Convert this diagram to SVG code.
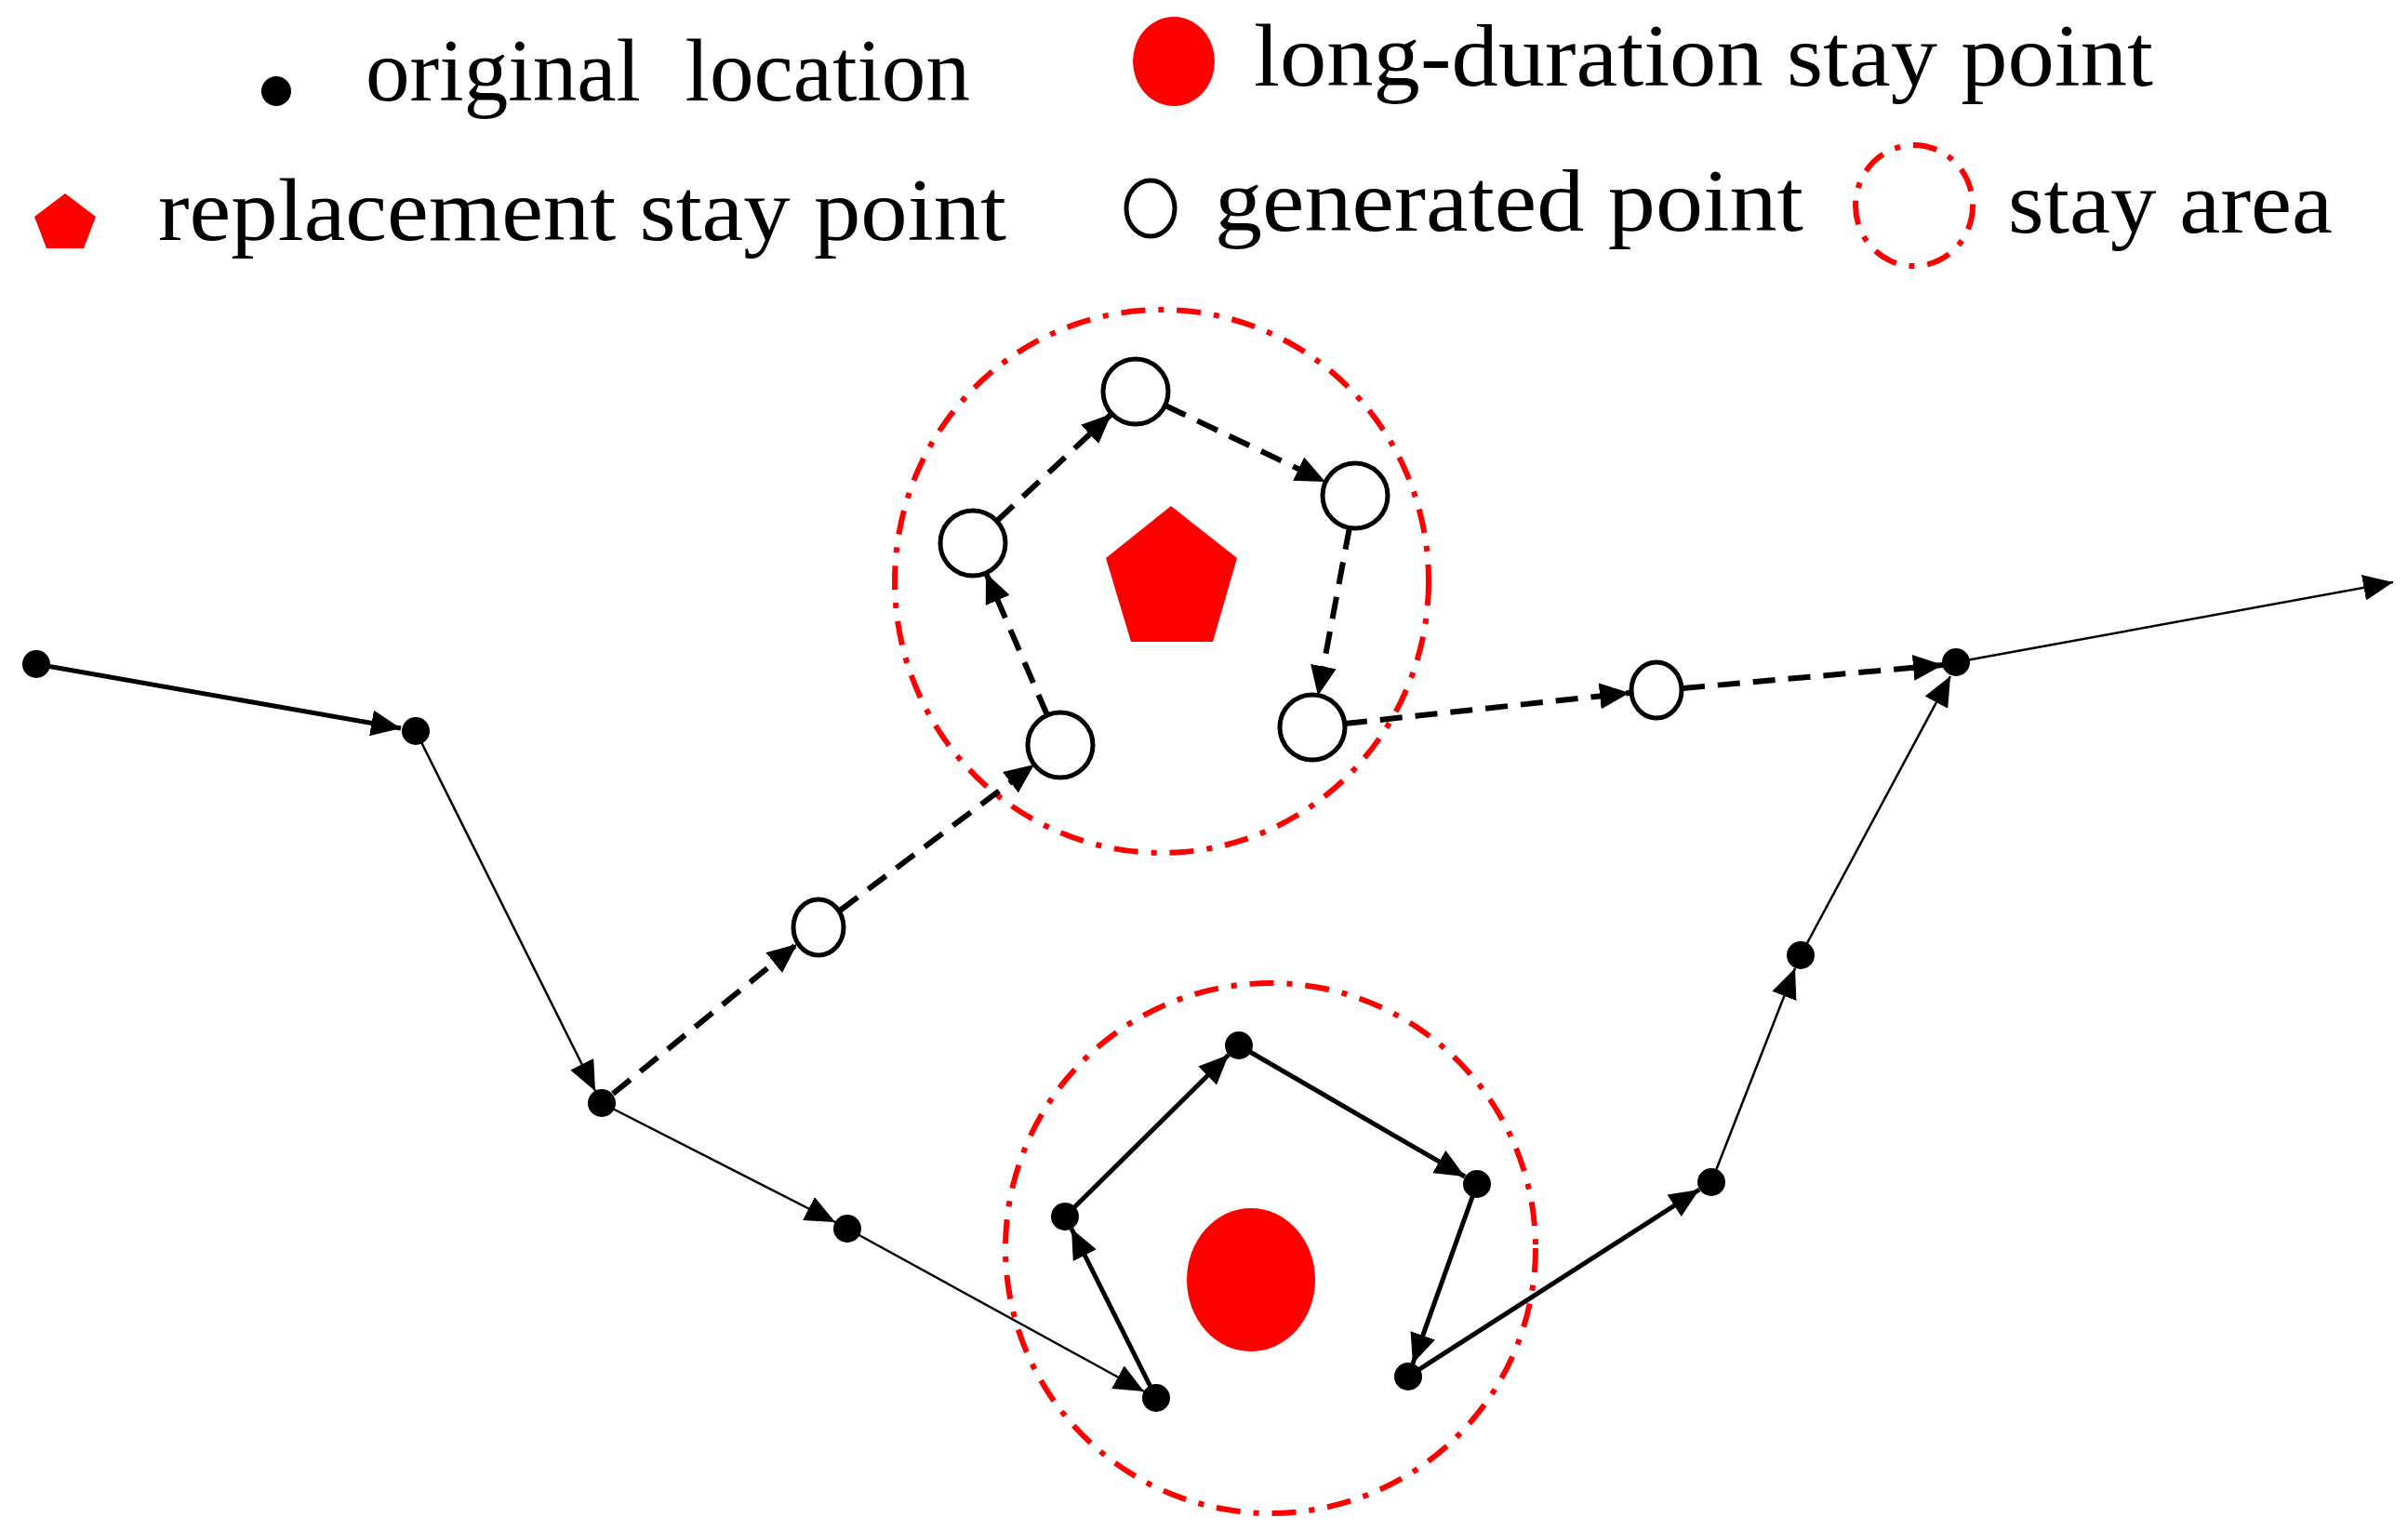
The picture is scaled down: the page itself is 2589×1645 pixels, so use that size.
<svg xmlns="http://www.w3.org/2000/svg" width="2589" height="1645" viewBox="0 0 2589 1645">
<defs>
<marker id="arr" markerUnits="userSpaceOnUse" markerWidth="32" markerHeight="28" refX="32" refY="14" orient="auto"><path d="M0,0 L32,14 L0,28 z" fill="#000"/></marker>
<style>
.lbl{font-family:"Liberation Serif","DejaVu Serif",serif;font-size:96px;fill:#000}
.dot{fill:#000}
.gen{fill:#fff;stroke:#000;stroke-width:5}
.area{fill:none;stroke:#ff0000;stroke-width:6;stroke-dasharray:26 14 6 14}
.red{fill:#ff0000}
.thick{fill:none;stroke:#000;stroke-width:5;marker-end:url(#arr)}
.thin{fill:none;stroke:#000;stroke-width:2.5;marker-end:url(#arr)}
.dash{fill:none;stroke:#000;stroke-width:6;stroke-dasharray:24 14;marker-end:url(#arr)}
</style>
</defs>
<rect width="2589" height="1645" fill="#fff"/>
<g id="legend">
<circle class="dot" cx="297" cy="98" r="16"/>
<text class="lbl" x="393" y="108" textLength="650" lengthAdjust="spacingAndGlyphs" xml:space="preserve">original  location</text>
<ellipse class="red" cx="1262" cy="66" rx="44" ry="48"/>
<text class="lbl" x="1348" y="92" textLength="967" lengthAdjust="spacingAndGlyphs">long-duration stay point</text>
<polygon class="red" points="70,208 103,233 90,267 50,267 37,233"/>
<text class="lbl" x="170" y="258" textLength="912" lengthAdjust="spacingAndGlyphs">replacement stay point</text>
<ellipse class="gen" cx="1237" cy="224" rx="26" ry="30"/>
<text class="lbl" x="1306" y="248" textLength="633" lengthAdjust="spacingAndGlyphs">generated point</text>
<ellipse class="area" cx="2058" cy="221" rx="63" ry="65"/>
<text class="lbl" x="2159" y="250" textLength="349" lengthAdjust="spacingAndGlyphs">stay area</text>
</g>
<g id="stay-area-top"><ellipse class="area" cx="1249" cy="625" rx="287" ry="292"/></g>
<g id="stay-area-bottom"><circle class="area" cx="1366" cy="1342" r="285"/></g>
<g id="replacement-stay-point"><polygon class="red" points="1259,544 1330,600 1304,690 1216,690 1189,600"/></g>
<g id="long-duration-stay-point"><ellipse class="red" cx="1345" cy="1376" rx="69" ry="77"/></g>
<g id="connectors">
<path class="thick" d="M39,714 L431,783"/>
<path class="thin" d="M447,786 L640,1173"/>
<path class="thin" d="M647,1186 L898,1314"/>
<path class="thin" d="M911,1321 L1230,1496"/>
<path class="thick" d="M1243,1503 L1152,1321"/>
<path class="thick" d="M1145,1308 L1321,1134"/>
<path class="thick" d="M1332,1124 L1575,1265"/>
<path class="thick" d="M1588,1273 L1519,1466"/>
<path class="thick" d="M1514,1480 L1827,1279"/>
<path class="thin" d="M1840,1271 L1930,1041"/>
<path class="thin" d="M1936,1027 L2097,727"/>
<path class="thin" d="M2103,712 L2573,626"/>
<path class="dash" d="M659,1176 L857,1015"/>
<path class="dash" d="M903,979 L1112,822"/>
<path class="dash" d="M1126,769 L1060,616"/>
<path class="dash" d="M1072,560 L1195,445"/>
<path class="dash" d="M1253,436 L1425,518"/>
<path class="dash" d="M1451,567 L1417,748"/>
<path class="dash" d="M1446,778 L1752,745"/>
<path class="dash" d="M1809,740 L2089,715"/>
</g>
<g id="p1"><circle class="dot" cx="39" cy="714" r="15"/></g>
<g id="p2"><circle class="dot" cx="447" cy="786" r="15"/></g>
<g id="p3"><circle class="dot" cx="647" cy="1186" r="15"/></g>
<g id="p4"><circle class="dot" cx="911" cy="1321" r="15"/></g>
<g id="p5"><circle class="dot" cx="1243" cy="1503" r="15"/></g>
<g id="p6"><circle class="dot" cx="1145" cy="1308" r="15"/></g>
<g id="p7"><circle class="dot" cx="1332" cy="1124" r="15"/></g>
<g id="p8"><circle class="dot" cx="1588" cy="1273" r="15"/></g>
<g id="p9"><circle class="dot" cx="1514" cy="1480" r="15"/></g>
<g id="p10"><circle class="dot" cx="1840" cy="1271" r="15"/></g>
<g id="p11"><circle class="dot" cx="1936" cy="1027" r="15"/></g>
<g id="p12"><circle class="dot" cx="2103" cy="712" r="15"/></g>
<g id="g1"><ellipse class="gen" cx="880" cy="997" rx="27" ry="30"/></g>
<g id="g2"><ellipse class="gen" cx="1140" cy="801" rx="35" ry="35"/></g>
<g id="g3"><ellipse class="gen" cx="1046" cy="584" rx="35" ry="35"/></g>
<g id="g4"><ellipse class="gen" cx="1221" cy="421" rx="35" ry="35"/></g>
<g id="g5"><ellipse class="gen" cx="1457" cy="533" rx="35" ry="35"/></g>
<g id="g6"><ellipse class="gen" cx="1411" cy="782" rx="35" ry="35"/></g>
<g id="g7"><ellipse class="gen" cx="1781" cy="742" rx="27" ry="30"/></g>
</svg>
